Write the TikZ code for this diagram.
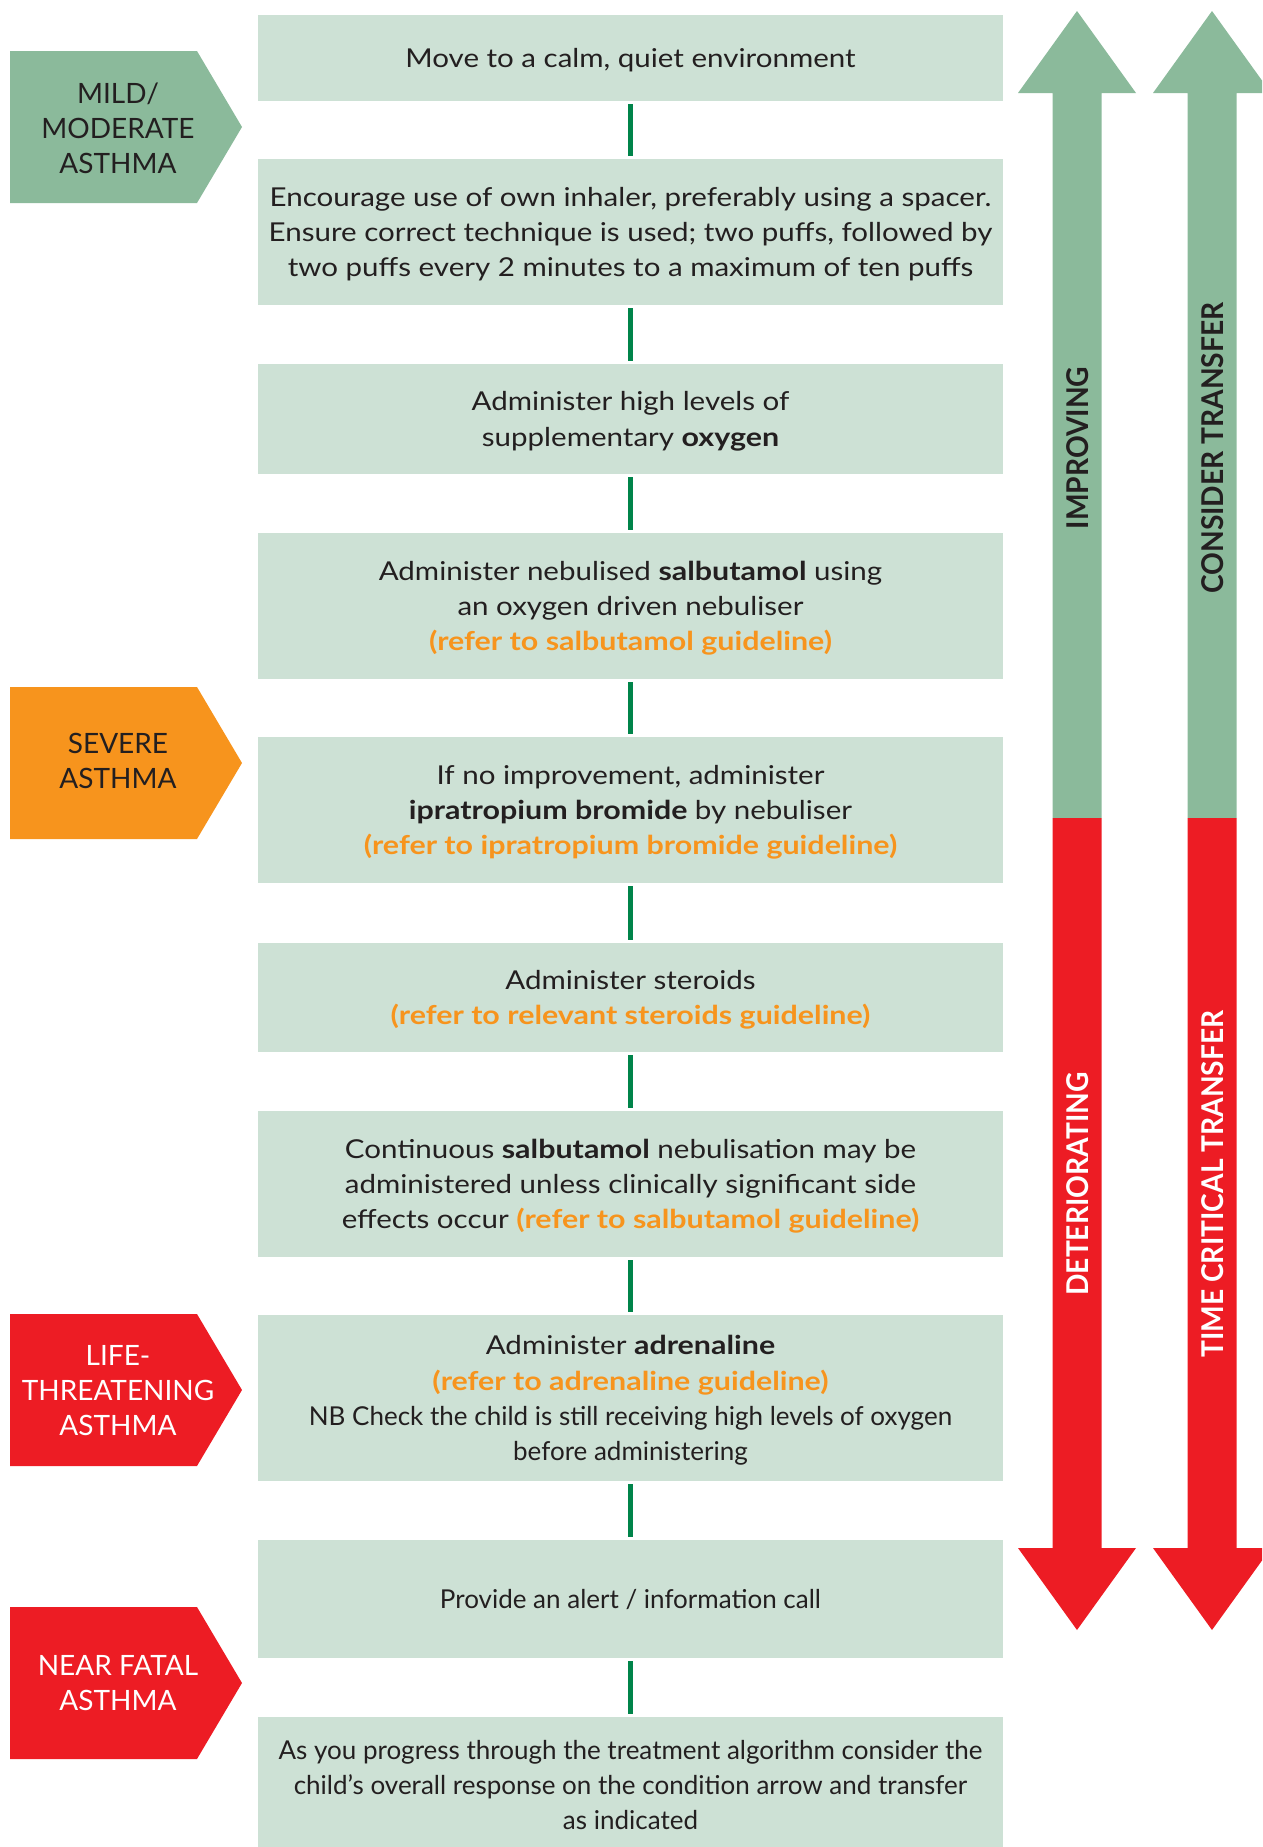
\documentclass[tikz,border=0pt]{standalone}
\usepackage{fontspec}
\setmainfont{Lato}
% wider cut used for most of the step texts
\newfontfamily\widefont{Lato}[UprightFeatures={FakeStretch=1.135}, BoldFeatures={FakeStretch=1.17}]
% slightly narrower cut for the vertical arrow labels
\newfontfamily\arrowfont{Lato}[FakeStretch=0.94]
\definecolor{boxfill}{HTML}{CDE1D5}
\definecolor{mildgreen}{HTML}{8BBA9B}
\definecolor{alertred}{HTML}{ED1C24}
\definecolor{severeorange}{HTML}{F7941D}
\definecolor{linkgreen}{HTML}{00844A}
\definecolor{inkdark}{HTML}{231F20}
\newcommand\guideref[1]{\textcolor{severeorange}{\bfseries #1}}
\newcommand\plainline[1]{{\rmfamily #1}}
\tikzset{
  stepbox/.style={fill=boxfill, minimum width=745pt, inner sep=0pt, align=center,
    text depth=0pt, text=inkdark, font=\widefont\fontsize{26}{35.3}\selectfont},
  plainbox/.style={stepbox, font=\rmfamily\fontsize{26}{35.3}\selectfont},
  link/.style={draw=linkgreen, line width=5.5pt, shorten <=3pt, shorten >=3pt},
  taglabel/.style={align=center, inner sep=0pt, font=\fontsize{28}{35}\selectfont},
  arrowlabel/.style={rotate=90, inner sep=0pt, font=\arrowfont\bfseries\fontsize{30}{30}\selectfont},
}
\begin{document}
\begin{tikzpicture}[x=1pt, y=-1pt]
\useasboundingbox (0,0) rectangle (1262,1847);
\clip (0,0) rectangle (1262,1847);

% treatment steps
\node[stepbox, minimum height=86pt] (s1) at (630.5,58) {Move to a calm, quiet environment};
\node[stepbox, minimum height=146pt] (s2) at (630.5,232) {Encourage use of own inhaler, preferably using a spacer.\\Ensure correct technique is used; two puffs, followed by\\two puffs every 2 minutes to a maximum of ten puffs};
\node[stepbox, minimum height=110pt] (s3) at (630.5,419) {Administer high levels of\\supplementary \textbf{oxygen}};
\node[stepbox, minimum height=146pt] (s4) at (630.5,606) {Administer nebulised \textbf{salbutamol} using\\an oxygen driven nebuliser\\\guideref{(refer to salbutamol guideline)}};
\node[stepbox, minimum height=146pt] (s5) at (630.5,810) {If no improvement, administer\\\textbf{ipratropium bromide} by nebuliser\\\guideref{(refer to ipratropium bromide guideline)}};
\node[stepbox, minimum height=109pt] (s6) at (630.5,997.5) {Administer steroids\\\guideref{(refer to relevant steroids guideline)}};
\node[stepbox, minimum height=146pt] (s7) at (630.5,1184) {Continuous \textbf{salbutamol} nebulisation may be\\administered unless clinically significant side\\effects occur \guideref{(refer to salbutamol guideline)}};
\node[stepbox, minimum height=166pt] (s8) at (630.5,1398) {Administer \textbf{adrenaline}\\\guideref{(refer to adrenaline guideline)}\\\plainline{NB Check the child is still receiving high levels of oxygen}\\\plainline{before administering}};
\node[plainbox, minimum height=118pt] (s9) at (630.5,1599) {Provide an alert / information call};
\node[plainbox, minimum height=136pt] (s10) at (630.5,1785) {As you progress through the treatment algorithm consider the\\child’s overall response on the condition arrow and transfer\\as indicated};

% links between steps
\foreach \a/\b in {s1/s2, s2/s3, s3/s4, s4/s5, s5/s6, s6/s7, s7/s8, s8/s9, s9/s10}
  \draw[link] (\a) -- (\b);

% severity tags
\fill[mildgreen] (10,51) -- (197,51) -- (242,127) -- (197,203) -- (10,203) -- cycle;
\node[taglabel, text=inkdark] (mild) at (118,128) {MILD/\\MODERATE\\ASTHMA};
\fill[severeorange] (10,687) -- (197,687) -- (242,763) -- (197,839) -- (10,839) -- cycle;
\node[taglabel, text=inkdark] (severe) at (118,761) {SEVERE\\ASTHMA};
\fill[alertred] (10,1314) -- (197,1314) -- (242,1390) -- (197,1466) -- (10,1466) -- cycle;
\node[taglabel, text=white] (life) at (118,1391) {LIFE-\\THREATENING\\ASTHMA};
\fill[alertred] (10,1607) -- (197,1607) -- (242,1683) -- (197,1759) -- (10,1759) -- cycle;
\node[taglabel, text=white] (nearfatal) at (118,1683) {NEAR FATAL\\ASTHMA};

% condition arrows
\foreach \c in {1077,1212}{
  \fill[mildgreen] (\c-24.5,818) -- (\c-24.5,93) -- (\c-59,93) -- (\c,11) -- (\c+59,93) -- (\c+24.5,93) -- (\c+24.5,818) -- cycle;
  \fill[alertred] (\c-24.5,818) -- (\c-24.5,1548) -- (\c-59,1548) -- (\c,1630) -- (\c+59,1548) -- (\c+24.5,1548) -- (\c+24.5,818) -- cycle;
}
\node[arrowlabel, text=inkdark] (improving) at (1078,448) {IMPROVING};
\node[arrowlabel, text=inkdark] (consider) at (1213,448) {CONSIDER TRANSFER};
\node[arrowlabel, text=white] (deteriorating) at (1078,1184) {DETERIORATING};
\node[arrowlabel, text=white] (timecritical) at (1213,1184) {TIME CRITICAL TRANSFER};
\end{tikzpicture}
\end{document}
